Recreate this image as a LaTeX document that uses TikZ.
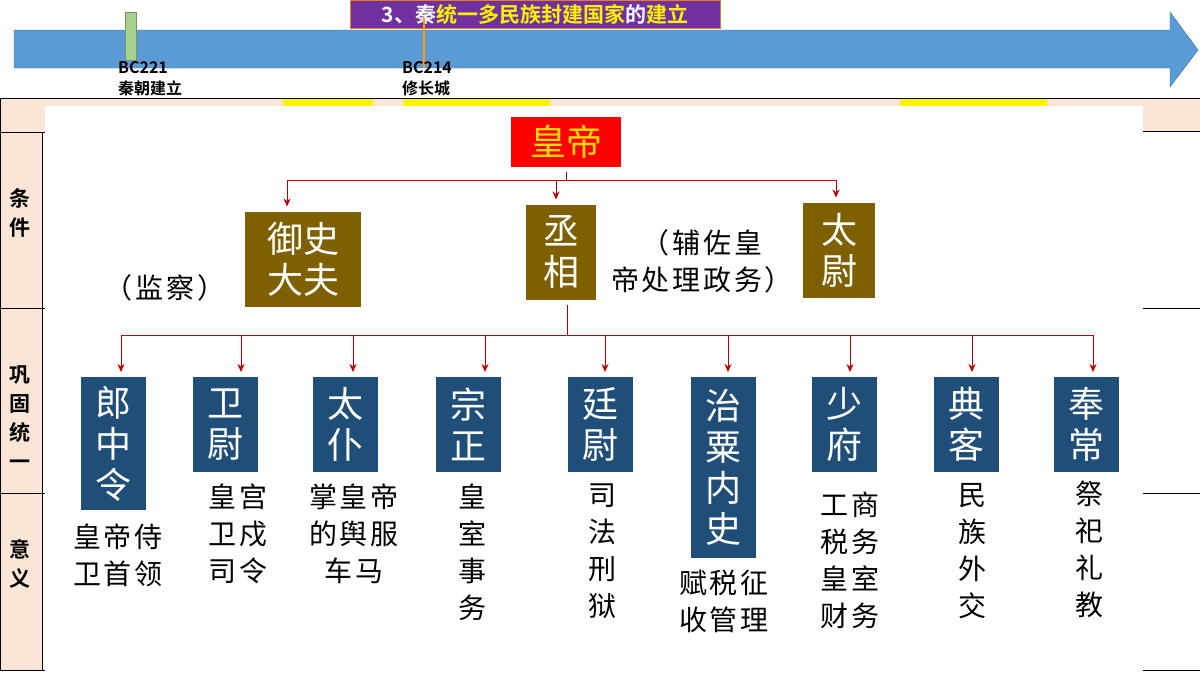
\documentclass[tikz,border=0pt]{standalone}
\usepackage{fontspec}
\setmainfont{Noto Sans CJK SC}[BoldFont={Noto Sans CJK SC Bold}]
\usetikzlibrary{shadows,arrows.meta}
\definecolor{tlblue}{HTML}{5B9BD5}
\definecolor{tlgreen}{HTML}{A9D18E}
\definecolor{ttlpurple}{HTML}{7030A0}
\definecolor{rowpink}{HTML}{FBE5D6}
\definecolor{offbrown}{HTML}{7F6000}
\definecolor{offblue}{HTML}{1F4E79}
\definecolor{linkred}{HTML}{C00000}
\tikzset{
  office/.style={draw=white,line width=5pt,text=white,font=\fontsize{36}{41}\selectfont,
    align=center,inner sep=0pt,drop shadow={opacity=0.5,shadow xshift=1.5pt,shadow yshift=-2.5pt}},
  topbox/.style={office,fill=offbrown},
  subbox/.style={office,fill=offblue,minimum width=70pt,font=\fontsize{36}{41}\selectfont},
  note/.style={font=\fontsize{28}{37}\selectfont\addfontfeature{LetterSpace=10},align=center,text=black},
  link/.style={draw=linkred,line width=1pt,-{Stealth[length=8pt,width=7pt]}},
  rowtag/.style={font=\bfseries\fontsize{21}{29}\selectfont,align=center}
}
\begin{document}
\begin{tikzpicture}[x=1pt,y=-1pt]
    \useasboundingbox (0,0) rectangle (1200,675);
    % time line
    \draw[fill=tlblue,draw=tlblue!70!black] (14,30) -- (1170,30) -- (1170,12) -- (1198,50) -- (1170,87) -- (1170,68) -- (14,68) -- cycle;
    \draw[fill=tlgreen,draw=tlgreen!70!black] (125,12) rectangle (136,60);
    \node[fill=ttlpurple,draw=orange!60!brown,minimum width=370pt,minimum height=28pt,inner sep=0pt,
      font=\bfseries\fontsize{21}{22}\selectfont] (title) at (535,14)
      {\textcolor{white}{3、秦}\textcolor{yellow}{统一多民族封建国家}\textcolor{white}{的}\textcolor{yellow}{建立}};
    \draw[orange!80!yellow,line width=1.5pt] (424,18) -- (424,68);
    \node[anchor=north west,font=\bfseries\fontsize{16}{21}\selectfont,align=left,inner sep=0pt] (bc221) at (118,61) {BC221\\秦朝建立};
    \node[anchor=north west,font=\bfseries\fontsize{16}{21}\selectfont,align=left,inner sep=0pt] (bc214) at (402,61) {BC214\\修长城};
    % table behind the panel
    \fill[rowpink] (0,98) rectangle (1200,132);
    \fill[rowpink] (0,98) rectangle (42,670);
    \fill[yellow] (283,98) rectangle (373,106);
    \fill[yellow] (403,98) rectangle (550,106);
    \fill[yellow] (900,98) rectangle (1047,106);
    \draw[line width=1pt] (0,98) -- (1200,98);
    \draw (0,98) -- (0,670) -- (1200,670);
    \draw (42,132) -- (42,670);
    \draw (0,132) -- (45,132);
    \draw (0,308) -- (45,308);
    \draw (0,493) -- (45,493);
    \draw (1143,131) -- (1200,131);
    \draw (1143,308) -- (1200,308);
    \draw (1143,493) -- (1200,493);
    \fill[white] (45,106) rectangle (1143,672);
    \node[rowtag] (tagA) at (20,213) {条\\件};
    \node[rowtag] (tagB) at (20,418) {巩\\固\\统\\一};
    \node[rowtag] (tagC) at (20,564) {意\\义};
    % emperor and the three lords
    \node[office,fill=red,text=yellow!80!orange,minimum width=115pt,minimum height=55pt] (emp) at (566,142) {皇帝};
    \node[topbox,minimum width=121pt,minimum height=100pt] (yushi) at (303,259) {御史\\大夫};
    \node[topbox,minimum width=75pt,minimum height=100pt] (cheng) at (561,252) {丞\\相};
    \node[topbox,minimum width=77pt,minimum height=100pt] (taiwei) at (839,250) {太\\尉};
    \coordinate (top) at (566,180);
    \draw[draw=linkred,line width=1pt] (emp.south) -- (top);
    \draw[link] (top) -| (yushi.north -| 287,0);
    \draw[link] (top) -| (cheng.north -| 556,0);
    \draw[link] (top) -| (taiwei.north -| 836,0);
    \node[note] (jiancha) at (165,288) {（监察）};
    \node[note] (fuzuo) at (702,261) {（辅佐皇\\帝处理政务）};
    % nine ministers
    \node[subbox,anchor=north,minimum height=138pt] (lang) at (113,372) {郎\\中\\令};
    \node[subbox,anchor=north,minimum height=100pt] (wei) at (225,372) {卫\\尉};
    \node[subbox,anchor=north,minimum height=100pt] (pu) at (345,372) {太\\仆};
    \node[subbox,anchor=north,minimum height=100pt] (zong) at (468,372) {宗\\正};
    \node[subbox,anchor=north,minimum height=100pt] (ting) at (600,372) {廷\\尉};
    \node[subbox,anchor=north,minimum height=186pt] (zhisu) at (723,372) {治\\粟\\内\\史};
    \node[subbox,anchor=north,minimum height=100pt] (shao) at (844,372) {少\\府};
    \node[subbox,anchor=north,minimum height=100pt] (dian) at (966,372) {典\\客};
    \node[subbox,anchor=north,minimum height=100pt] (feng) at (1086,372) {奉\\常};
    \coordinate (mid) at (567,335);
    \draw[draw=linkred,line width=1pt] (cheng.south -| 567,0) -- (mid);
    \foreach \n/\x in {lang/121,wei/241,pu/353,zong/485,ting/605,zhisu/728,shao/850,dian/972,feng/1093}
      \draw[link] (mid) -| (\n.north -| \x,0);
    % duties
    \node[note,anchor=north] (dLang) at (118,520) {皇帝侍\\卫首领};
    \node[note,anchor=north] (dWei) at (238,480) {皇宫\\卫戍\\司令};
    \node[note,anchor=north] (dPu) at (354,480) {掌皇帝\\的舆服\\车马};
    \node[note,anchor=north] (dZong) at (472,480) {皇\\室\\事\\务};
    \node[note,anchor=north] (dTing) at (602,480) {司\\法\\刑\\狱};
    \node[note,anchor=north] (dZhisu) at (724,566) {赋税征\\收管理};
    \node[note,anchor=north] (dShao) at (850,488) {工商\\税务\\皇室\\财务};
    \node[note,anchor=north] (dDian) at (972,480) {民\\族\\外\\交};
    \node[note,anchor=north] (dFeng) at (1089,477) {祭\\祀\\礼\\教};
\end{tikzpicture}
\end{document}
